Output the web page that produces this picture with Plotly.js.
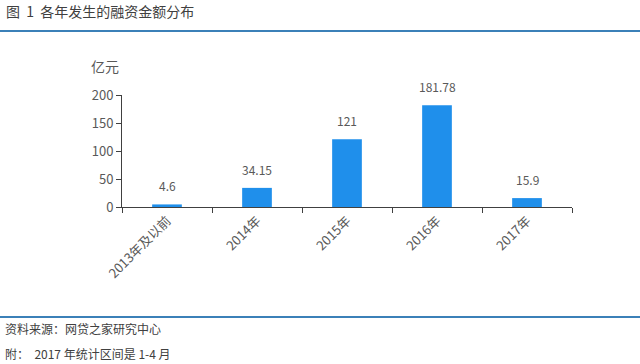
<!DOCTYPE html>
<html><head><meta charset="utf-8">
<script src="https://cdn.plot.ly/plotly-3.0.1.min.js"></script>
<style>html,body{margin:0;padding:0;background:#fff}#c{width:640px;height:364px}</style>
</head><body><div id="c"></div>
<script>
const categories = ["2013年及以前", "2014年", "2015年", "2016年", "2017年"];
const values = [4.6, 34.15, 121, 181.78, 15.9];
const valueLabels = ["4.6", "34.15", "121", "181.78", "15.9"];
const yTicks = [0, 50, 100, 150, 200];

const L = 122, R = 68, T = 95, B = 157, W = 640, H = 364;
const pw = W - L - R, ph = H - T - B;
const px = x => (x - L) / pw;
const py = y => (H - B - y) / ph;
const font = "'Noto Sans CJK SC', 'Noto Sans', sans-serif";

const data = [{
  type: "bar", x: categories, y: values,
  marker: {color: "#1F8FEB"},
  hoverinfo: "none"
}];

const valueAnns = categories.map((c, i) => ({
  xref: "x", yref: "y", x: c, y: values[i], yanchor: "bottom", yshift: 8,
  text: valueLabels[i], showarrow: false,
  font: {size: 12, color: "#595959", family: font}
}));

const layout = {
  width: W, height: H,
  margin: {l: L, r: R, t: T, b: B, pad: 0},
  paper_bgcolor: "#fff", plot_bgcolor: "#fff",
  showlegend: false, bargap: 0.67,
  font: {family: font, color: "#595959"},
  xaxis: {
    type: "category", tickangle: -45, tickson: "boundaries",
    ticks: "outside", ticklen: 5, tickcolor: "#404040",
    showline: true, linecolor: "#404040", linewidth: 1,
    showgrid: false, zeroline: false,
    tickfont: {size: 13, color: "#595959", family: font}
  },
  yaxis: {
    range: [0, 200], tickvals: yTicks, ticks: "outside", ticklen: 5,
    tickcolor: "#404040", showline: true, linecolor: "#404040", linewidth: 1,
    showgrid: false, zeroline: false,
    tickfont: {size: 13, color: "#595959", family: font}
  },
  shapes: [
    {type: "line", xref: "paper", yref: "paper", x0: px(0), x1: px(640), y0: py(31), y1: py(31),
     line: {color: "#3B80B8", width: 2}},
    {type: "line", xref: "paper", yref: "paper", x0: px(0), x1: px(640), y0: py(317), y1: py(317),
     line: {color: "#3B80B8", width: 2}}
  ],
  annotations: [
    {xref: "paper", yref: "paper", x: px(4), y: py(11), xanchor: "left", yanchor: "middle",
     text: "图  1  各年发生的融资金额分布", showarrow: false,
     font: {size: 14, color: "#404040", family: font}},
    {xref: "paper", yref: "paper", x: px(89), y: py(66), xanchor: "left", yanchor: "middle",
     text: "亿元", showarrow: false, font: {size: 14, color: "#595959", family: font}},
    {xref: "paper", yref: "paper", x: px(3), y: py(328), xanchor: "left", yanchor: "middle",
     text: "资料来源：网贷之家研究中心", showarrow: false,
     font: {size: 12, color: "#404040", family: font}},
    {xref: "paper", yref: "paper", x: px(3), y: py(353), xanchor: "left", yanchor: "middle",
     text: "附：  2017 年统计区间是 1-4 月", showarrow: false,
     font: {size: 12, color: "#404040", family: font}}
  ].concat(valueAnns)
};

Plotly.newPlot("c", data, layout, {displayModeBar: false, staticPlot: true});
</script>
</body></html>
